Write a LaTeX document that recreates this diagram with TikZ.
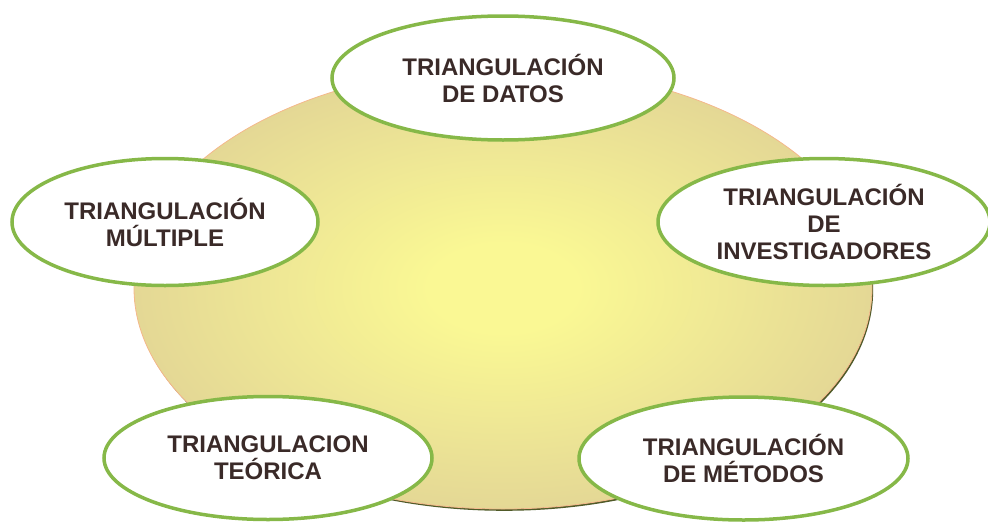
\documentclass[tikz,border=0pt]{standalone}
\usepackage{fontspec}
\setmainfont{Liberation Sans}
\usetikzlibrary{shapes.geometric}
\definecolor{ringgreen}{RGB}{134,184,72}
\definecolor{txtbrown}{RGB}{58,42,40}
\definecolor{glowcen}{RGB}{250,248,148}
\definecolor{glowedge}{RGB}{216,198,150}
\definecolor{rimsalmon}{RGB}{244,184,140}
\definecolor{shadowolive}{RGB}{80,90,40}
\pgfdeclareradialshading{bigglow}{\pgfpoint{0bp}{0bp}}{color(0bp)=(glowcen); color(5bp)=(glowcen); color(36bp)=(glowedge); color(50bp)=(glowedge)}
\tikzset{
  bub/.style={ellipse, draw=ringgreen, line width=3.5pt, fill=white, inner sep=0pt,
    align=center, text=txtbrown, font=\bfseries\fontsize{24}{27}\selectfont},
}
\begin{document}
\begin{tikzpicture}[x=1pt,y=1pt]
\useasboundingbox (0,0) rectangle (988,-525);
% big background ellipse
\fill[shadowolive] (504.2,-289.8) ellipse [x radius=369, y radius=221];
\shade[shading=bigglow] (503,-288) ellipse [x radius=369, y radius=221];
\draw[rimsalmon, line width=0.8pt] (503,-288) ellipse [x radius=369, y radius=221];
% bubbles
\node[bub, minimum width=342pt, minimum height=124pt] (datos) at (503,-78) {TRIANGULACIÓN\\DE DATOS};
\node[bub, minimum width=306pt, minimum height=127pt] (multiple) at (165,-222) {TRIANGULACIÓN\\MÚLTIPLE};
\node[bub, minimum width=332pt, minimum height=127pt] (invest) at (824,-222) {TRIANGULACIÓN\\DE\\INVESTIGADORES};
\node[bub, minimum width=328pt, minimum height=123pt] (teorica) at (268,-458) {TRIANGULACION\\TEÓRICA};
\node[bub, minimum width=329pt, minimum height=123pt] (metodos) at (743.5,-458.5) {TRIANGULACIÓN\\DE MÉTODOS};
\end{tikzpicture}
\end{document}
